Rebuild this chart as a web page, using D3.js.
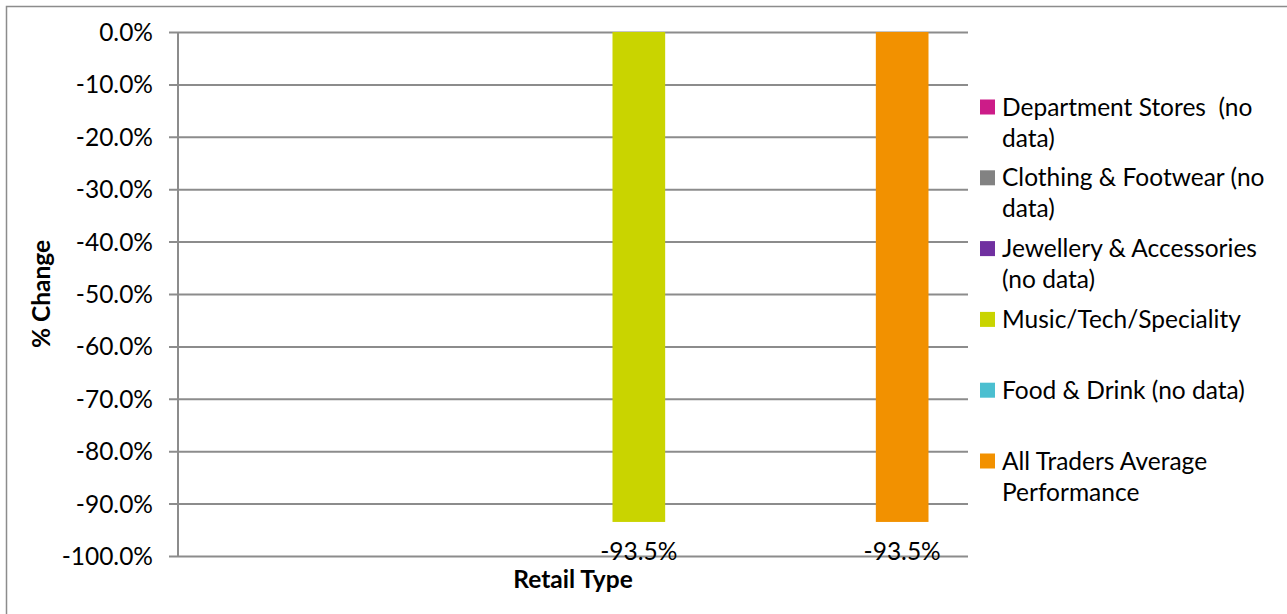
<!DOCTYPE html>
<html>
<head>
<meta charset="utf-8">
<script src="https://cdn.jsdelivr.net/npm/d3@7"></script>
<style>
  body { margin: 0; background: #fff; }
  text { font-family: Lato, "Open Sans", sans-serif; fill: #000; white-space: pre; }
</style>
</head>
<body>
<script>
// series / categories (one bar per retail type)
var categories = ["Department Stores  (no data)", "Clothing & Footwear (no data)",
    "Jewellery & Accessories (no data)", "Music/Tech/Speciality",
    "Food & Drink (no data)", "All Traders Average Performance"];
var values = [null, null, null, -93.5, null, -93.5];
var colors = ["#cc1c88", "#828282", "#7030a0", "#c9d400", "#4bbfd0", "#f29100"];
// legend text broken the way the original wraps it
var legendLines = [["Department Stores  (no", "data)"], ["Clothing & Footwear (no", "data)"],
    ["Jewellery & Accessories", "(no data)"], ["Music/Tech/Speciality"],
    ["Food & Drink (no data)"], ["All Traders Average", "Performance"]];
var yTicks = [0, -10, -20, -30, -40, -50, -60, -70, -80, -90, -100];

var w = 1287, h = 614;
var mLeft = 178, mRight = 968, mTop = 32, mBottom = 556;
var fs = 24.5;

var svg = d3.select("body").append("svg")
    .attr("width", w)
    .attr("height", h);

// chart area border (only top/left show in the frame)
svg.append("rect")
    .attr("x", 6.5).attr("y", 6.5)
    .attr("width", w + 20).attr("height", h + 20)
    .attr("fill", "none").attr("stroke", "#8c8c8c").attr("stroke-width", 1.5);

var xScale = d3.scaleBand()
    .domain(categories)
    .range([mLeft, mRight])
    .paddingInner(0.6).paddingOuter(0.3);
var yScale = d3.scaleLinear()
    .domain([-100, 0])
    .range([mBottom, mTop]);

// gridlines + ticks
var yAxis = d3.axisLeft(yScale)
    .tickValues(yTicks)
    .tickSize(-(mRight - mLeft))
    .tickFormat(function(d) { return d.toFixed(1) + "%"; });
var g = svg.append("g").attr("transform", "translate(" + mLeft + ",0)").call(yAxis);
g.select(".domain").remove();
g.selectAll(".tick line").attr("x1", -9).attr("stroke", "#8c8c8c").attr("stroke-width", 2);
g.selectAll(".tick text")
    .attr("x", -25)
    .attr("dy", "0.35em")
    .attr("font-size", fs)
    .attr("font-family", "Lato, sans-serif")
    .attr("fill", "#000");

// vertical axis line
svg.append("line")
    .attr("x1", mLeft).attr("x2", mLeft)
    .attr("y1", mTop).attr("y2", mBottom)
    .attr("stroke", "#8c8c8c").attr("stroke-width", 2);

// bars
var data = categories.map(function(c, i) { return {cat: c, v: values[i], color: colors[i]}; });
var withVals = data.filter(function(d) { return d.v !== null; });
svg.selectAll("rect.bar")
    .data(withVals)
    .enter()
    .append("rect")
    .attr("class", "bar")
    .attr("x", function(d) { return xScale(d.cat); })
    .attr("y", yScale(0))
    .attr("width", xScale.bandwidth())
    .attr("height", function(d) { return yScale(d.v) - yScale(0); })
    .attr("fill", function(d) { return d.color; });

// data labels
svg.selectAll("text.lbl")
    .data(withVals)
    .enter()
    .append("text")
    .attr("class", "lbl")
    .attr("x", function(d) { return xScale(d.cat) + xScale.bandwidth() / 2; })
    .attr("y", function(d) { return yScale(d.v) + 38; })
    .attr("text-anchor", "middle")
    .attr("font-size", fs)
    .text(function(d) { return d.v.toFixed(1) + "%"; });

// axis titles
svg.append("text")
    .attr("transform", "translate(50," + (mTop + mBottom) / 2 + ") rotate(-90)")
    .attr("text-anchor", "middle")
    .attr("font-size", fs)
    .attr("font-weight", "bold")
    .text("% Change");
svg.append("text")
    .attr("x", (mLeft + mRight) / 2)
    .attr("y", 588)
    .attr("text-anchor", "middle")
    .attr("font-size", fs)
    .attr("font-weight", "bold")
    .text("Retail Type");

// legend
var leg = svg.selectAll("g.leg")
    .data(data)
    .enter()
    .append("g")
    .attr("class", "leg")
    .attr("transform", function(d, i) { return "translate(980," + (107 + i * 70.8) + ")"; });
leg.append("rect")
    .attr("x", 0).attr("y", -7.5)
    .attr("width", 15).attr("height", 15)
    .attr("fill", function(d) { return d.color; });
leg.each(function(d, i) {
    var t = d3.select(this).append("text")
        .attr("x", 22)
        .attr("font-size", fs);
    legendLines[i].forEach(function(line, j) {
        t.append("tspan")
            .attr("x", 22)
            .attr("y", j * 31)
            .attr("dy", "0.35em")
            .text(line);
    });
});
</script>
</body>
</html>
